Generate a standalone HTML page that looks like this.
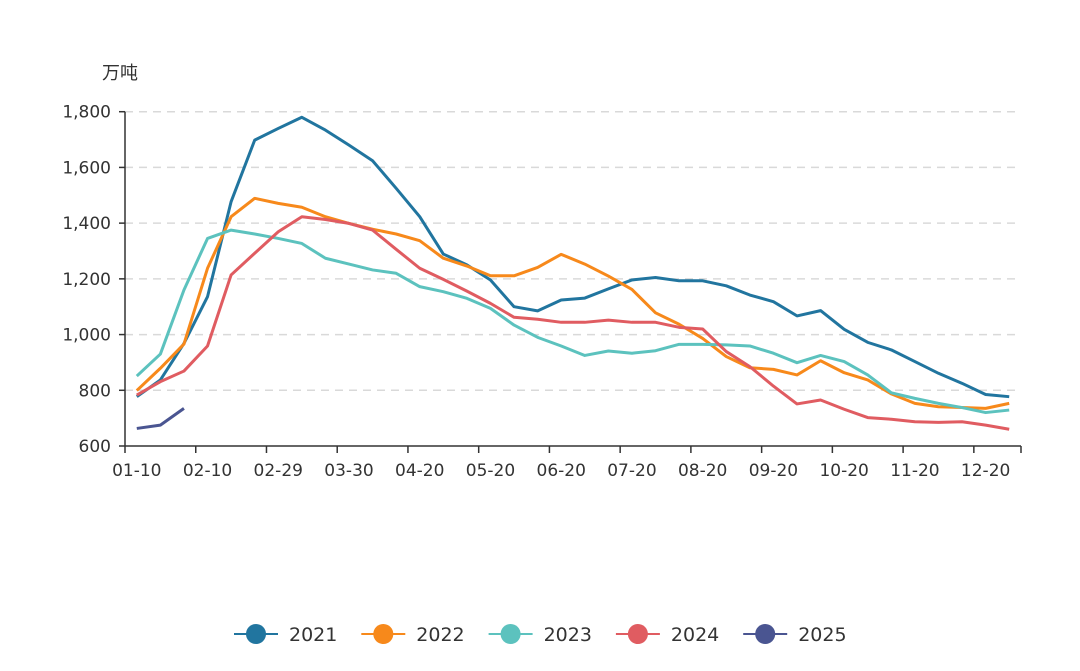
<!DOCTYPE html>
<html><head><meta charset="utf-8"><style>
body{margin:0;background:#fff;}
svg text{font-family:"DejaVu Sans","Noto Sans CJK SC",sans-serif;}
</style></head><body>
<svg id="chart" width="1080" height="666" xmlns="http://www.w3.org/2000/svg">
<text x="102" y="79" font-size="18" fill="#333" style="font-family:'Noto Sans CJK SC',sans-serif">万吨</text>
<g id="grid"></g><g id="axes"></g><g id="series"></g><g id="legend"></g>
</svg>
<script>
const categories = ["01-10","01-20","01-31","02-10","02-20","02-29","03-10","03-20","03-30","04-10","04-20","04-30","05-10","05-20","05-31","06-10","06-20","06-30","07-10","07-20","07-31","08-10","08-20","08-31","09-10","09-20","09-30","10-10","10-20","10-31","11-10","11-20","11-30","12-10","12-20","12-31","12-25","12-30"];
const tickLabels = ["01-10","02-10","02-29","03-30","04-20","05-20","06-20","07-20","08-20","09-20","10-20","11-20","12-20"];
const yTicks = [600,800,1000,1200,1400,1600,1800];
const seriesNames = ["2021","2022","2023","2024","2025"];
const colors = ["#21759f","#f7891b","#5cc2be","#e05c61","#4a5591"];
const s2021 = [777,837,968,1136,1477,1698,1740,1780,1734,1680,1624,1525,1423,1289,1250,1196,1100,1085,1124,1131,1164,1196,1205,1193,1193,1175,1142,1118,1067,1086,1019,972,945,903,861,825,785,777];
const s2022 = [799,879,966,1238,1423,1489,1471,1457,1423,1399,1378,1361,1337,1274,1246,1211,1211,1241,1288,1253,1210,1162,1078,1037,986,921,881,875,855,906,863,837,787,753,741,738,735,753];
const s2023 = [851,930,1160,1345,1375,1361,1345,1327,1274,1253,1232,1220,1172,1154,1130,1094,1034,990,959,925,941,933,942,965,965,963,959,933,899,925,903,855,791,771,753,738,720,729];
const s2024 = [783,831,869,959,1214,1292,1369,1423,1413,1399,1375,1306,1238,1198,1156,1112,1062,1055,1044,1044,1052,1044,1044,1026,1020,939,885,815,751,765,732,702,696,687,685,687,675,660];
const s2025 = [663,675,735];
const allSeries = [s2021,s2022,s2023,s2024,s2025];

const NS="http://www.w3.org/2000/svg";
const x0=125,x1=1021,yTop=111.7,yBot=446;
const bw=(x1-x0)/categories.length;
const xPos=i=>x0+bw*(i+0.5);
const yPos=v=>yBot-(v-600)/(1800-600)*(yBot-yTop);
function mk(tag,attrs,parent){const e=document.createElementNS(NS,tag);for(const k in attrs)e.setAttribute(k,attrs[k]);parent.appendChild(e);return e;}
const grid=document.getElementById('grid'),axes=document.getElementById('axes'),ser=document.getElementById('series'),leg=document.getElementById('legend');
yTicks.forEach(v=>{
  const y=yPos(v);
  if(v>600){const l=mk('line',{x1:x0,x2:x1,y1:y,y2:y,stroke:'#d9d9d9','stroke-dasharray':'8,6','stroke-width':1.5},grid);
  
  }
  mk('line',{x1:x0-6,x2:x0,y1:y,y2:y,stroke:'#333','stroke-width':1.5},axes);
  const t=mk('text',{x:x0-14,y:y+6,'text-anchor':'end','font-size':17,fill:'#333'},axes);
  t.textContent=v.toLocaleString('en-US');
  
  
});
mk('line',{x1:x0,x2:x0,y1:yTop,y2:yBot,stroke:'#333','stroke-width':1.5},axes);
mk('line',{x1:x0,x2:x1,y1:yBot,y2:yBot,stroke:'#333','stroke-width':1.5},axes);
mk('line',{x1:x1,x2:x1,y1:yBot,y2:yBot+7,stroke:'#333','stroke-width':1.5},axes);
tickLabels.forEach((lab,k)=>{
  const i=k*3;
  const xt=x0+bw*i;
  mk('line',{x1:xt,x2:xt,y1:yBot,y2:yBot+7,stroke:'#333','stroke-width':1.5},axes);
  const t=mk('text',{x:xPos(i),y:yBot+30,'text-anchor':'middle','font-size':17,fill:'#333'},axes);
  t.textContent=lab;
  
  
});
allSeries.forEach((s,si)=>{
  const p=mk('polyline',{points:s.map((v,i)=>xPos(i)+','+yPos(v)).join(' '),fill:'none',stroke:colors[si],'stroke-width':3,'stroke-linejoin':'round'},ser);
  
  
});
seriesNames.forEach((n,si)=>{
  const cx=256+127.3*si;
  const g=mk('g',{},leg);
  
  
  mk('line',{x1:cx-22,x2:cx+22,y1:634,y2:634,stroke:colors[si],'stroke-width':2},g);
  mk('circle',{cx:cx,cy:634,r:10,fill:colors[si]},g);
  const t=mk('text',{x:cx+33,y:641,'font-size':19,fill:'#333'},g);
  t.textContent=n;
});
</script>
</body></html>
